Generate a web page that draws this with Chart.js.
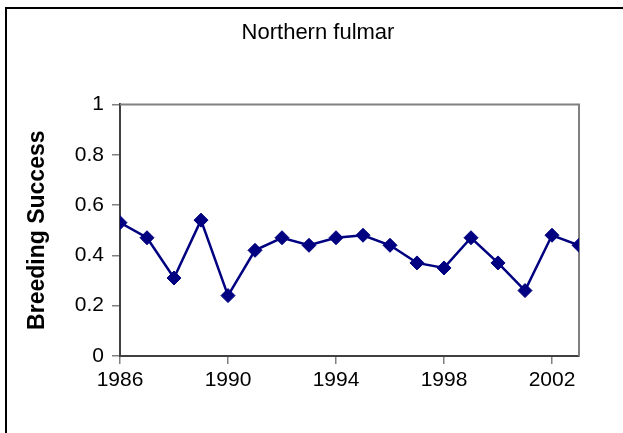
<!DOCTYPE html>
<html>
<head>
<meta charset="utf-8">
<title>Northern fulmar</title>
<script src="https://cdn.jsdelivr.net/npm/chart.js@4/dist/chart.umd.min.js"></script>
<style>
  html, body { margin: 0; padding: 0; background: #fff; }
  canvas { display: block; }
</style>
</head>
<body>
<canvas id="fulmarChart" width="623" height="433"></canvas>
<script>
// data
const years = [1986, 1987, 1988, 1989, 1990, 1991, 1992, 1993, 1994,
  1995, 1996, 1997, 1998, 1999, 2000, 2001, 2002, 2003];
const breedingSuccess = [0.53, 0.47, 0.31, 0.54, 0.24, 0.42, 0.47, 0.44, 0.47,
  0.48, 0.44, 0.37, 0.35, 0.47, 0.37, 0.26, 0.48, 0.44];
const xTickYears = [1986, 1990, 1994, 1998, 2002];
const yTickValues = [0, 0.2, 0.4, 0.6, 0.8, 1];

const FONT = "'Liberation Sans', Arial, Helvetica, sans-serif";
const NAVY = "#000080";

// outer frame (left + top only visible) and the grey top/right edges of the plot
const framePlugin = {
  id: "frame",
  beforeDraw(chart) {
    const ctx = chart.ctx;
    ctx.save();
    ctx.fillStyle = "#fff";
    ctx.fillRect(0, 0, chart.width, chart.height);
    ctx.strokeStyle = "#000";
    ctx.lineWidth = 2;
    ctx.beginPath();
    ctx.moveTo(6, chart.height + 5);
    ctx.lineTo(6, 8);
    ctx.lineTo(chart.width + 5, 8);
    ctx.stroke();
    ctx.restore();
  },
  beforeDatasetsDraw(chart) {
    const { ctx, chartArea } = chart;
    ctx.save();
    ctx.strokeStyle = "#808080";
    ctx.lineWidth = 2;
    ctx.beginPath();
    ctx.moveTo(chartArea.left, chartArea.top);
    ctx.lineTo(chartArea.right, chartArea.top);
    ctx.lineTo(chartArea.right, chartArea.bottom);
    ctx.stroke();
    ctx.restore();
  }
};

const ctx = document.getElementById("fulmarChart").getContext("2d");
const fulmarChart = new Chart(ctx, {
  type: "line",
  data: {
    datasets: [
      {
        label: "Breeding Success",
        data: years.map((y, i) => ({ x: y, y: breedingSuccess[i] })),
        borderColor: NAVY,
        backgroundColor: NAVY,
        borderWidth: 2.5,
        pointStyle: "rectRot",
        pointRadius: 7,
        pointBorderWidth: 1,
        pointBackgroundColor: NAVY,
        pointBorderColor: NAVY,
        tension: 0,
        fill: false
      }
    ]
  },
  options: {
    responsive: false,
    animation: false,
    layout: { padding: { left: 13, right: 0, top: 0, bottom: 0 } },
    plugins: {
      legend: { display: false },
      tooltip: { enabled: false },
      title: {
        display: true,
        text: "Northern fulmar",
        color: "#000",
        font: { family: FONT, size: 22, weight: "normal" },
        padding: { top: 20, bottom: 58 }
      }
    },
    scales: {
      x: {
        type: "linear",
        min: 1986,
        max: 2003,
        afterBuildTicks: (scale) => {
          scale.ticks = xTickYears.map((v) => ({ value: v }));
        },
        afterFit: (scale) => {
          scale.height = 77;
          scale.paddingRight = 44;
        },
        grid: { drawOnChartArea: false, drawTicks: true, tickLength: 8, color: "#808080", lineWidth: 1.5 },
        border: { color: "#404040", width: 2 },
        ticks: {
          color: "#000",
          padding: 4,
          maxRotation: 0,
          font: { family: FONT, size: 21 },
          callback: (v) => String(v)
        }
      },
      y: {
        min: 0,
        max: 1,
        afterBuildTicks: (scale) => {
          scale.ticks = yTickValues.map((v) => ({ value: v }));
        },
        afterFit: (scale) => { scale.width = 107; },
        grid: { drawOnChartArea: false, drawTicks: true, tickLength: 8, color: "#808080", lineWidth: 1.5 },
        border: { color: "#404040", width: 2 },
        title: {
          display: true,
          text: "Breeding Success",
          color: "#000",
          font: { family: FONT, size: 23, weight: "bold" },
          padding: { top: 11, bottom: 0 }
        },
        ticks: {
          color: "#000",
          padding: 8,
          font: { family: FONT, size: 21 },
          callback: (v) => String(v)
        }
      }
    }
  },
  plugins: [framePlugin]
});
</script>
</body>
</html>
